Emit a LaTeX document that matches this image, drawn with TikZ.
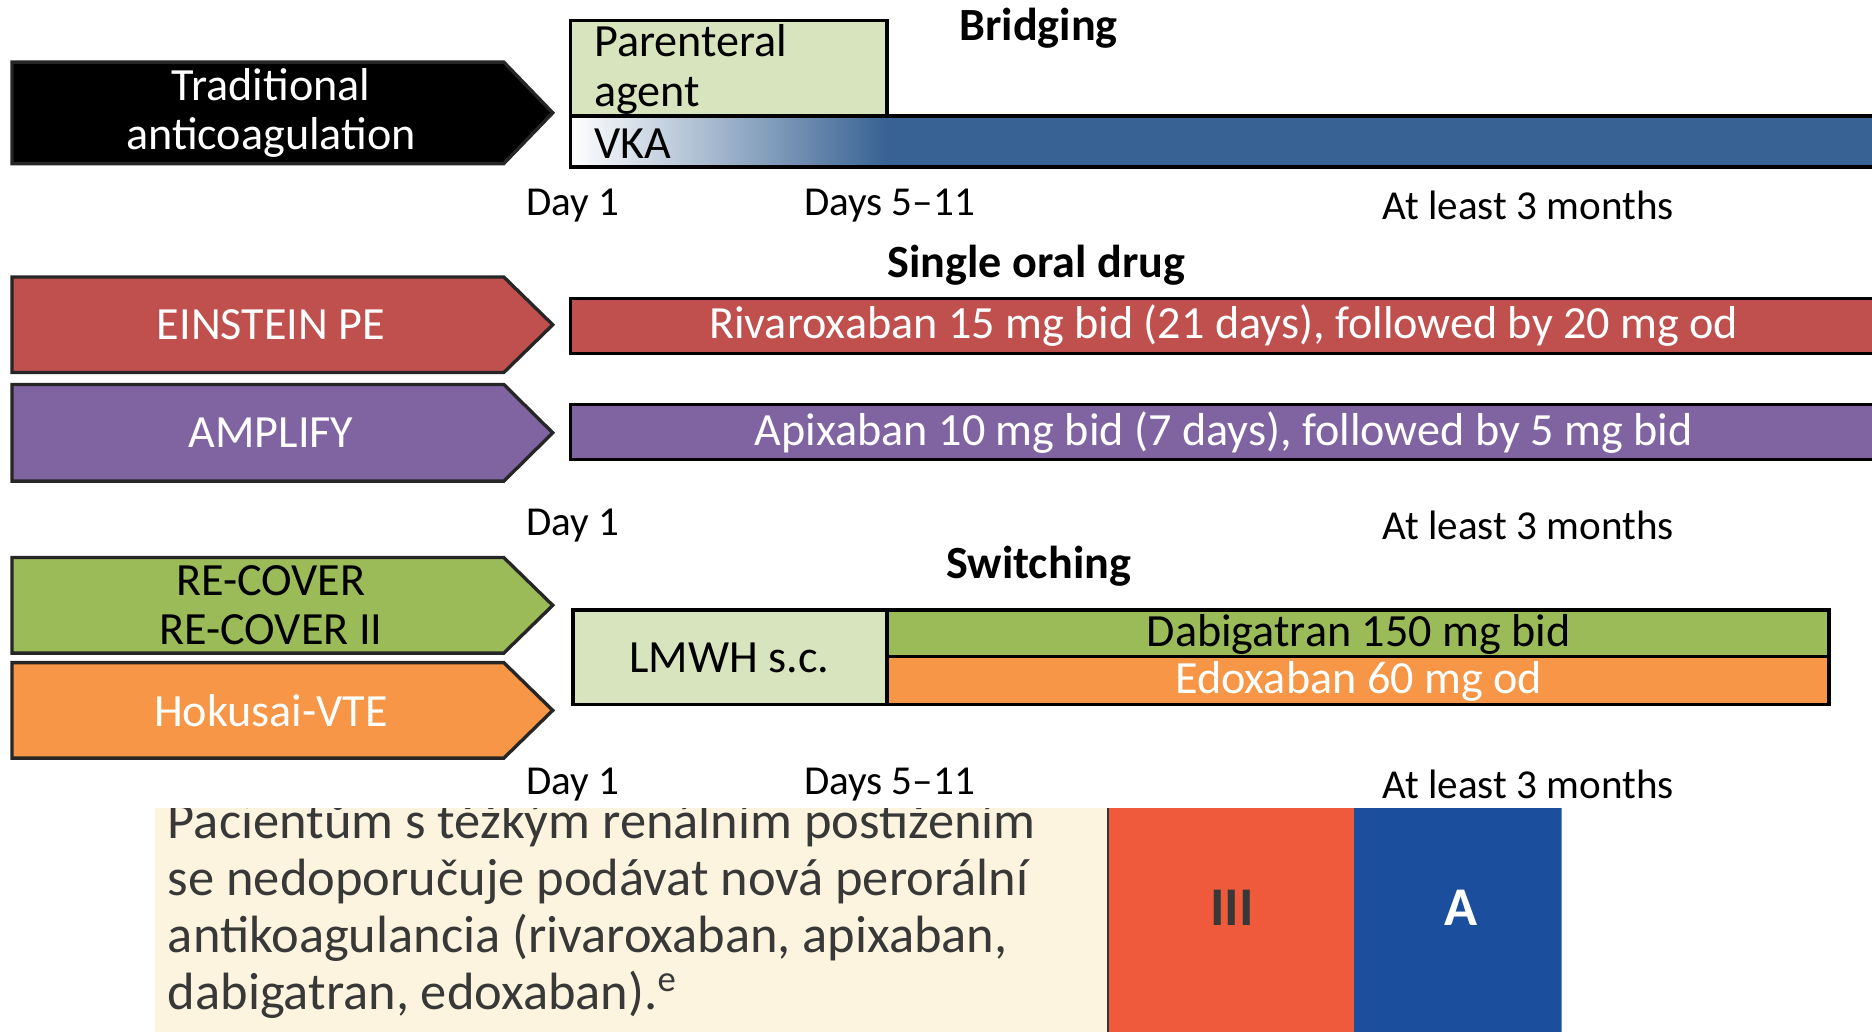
\documentclass[tikz,border=0pt]{standalone}
\usepackage{fontspec}
\setmainfont{Carlito}
\usetikzlibrary{positioning}

\definecolor{trialred}{HTML}{C0504D}
\definecolor{trialpurple}{HTML}{8064A2}
\definecolor{trialgreen}{HTML}{9BBB59}
\definecolor{trialorange}{HTML}{F79646}
\definecolor{paleagent}{HTML}{D7E4BD}
\definecolor{vkablue}{HTML}{386293}
\definecolor{tablecream}{HTML}{FCF4DE}
\definecolor{classred}{HTML}{EF5A3D}
\definecolor{levelblue}{HTML}{1B4E9C}
\definecolor{tabletext}{HTML}{383838}

\tikzset{
  trialarrow/.style={draw=black!85, line width=0.8pt},
  drugbar/.style={draw=black, line width=0.8pt},
  phase/.style={font=\fontsize{11}{12}\selectfont\bfseries},
  timept/.style={inner sep=0pt, font=\fontsize{9.8}{11}\selectfont},
}

\begin{document}
\begin{tikzpicture}[x=0.1mm, y=-0.1mm, font=\fontsize{11}{11.8}\selectfont]
    \useasboundingbox (0,0) rectangle (1568,864);

    % trial arrows on the left
    \foreach \nm/\top/\bot/\fcol/\tcol/\txt in {
        trad/52/137/black/white/{Traditional\\anticoagulation},
        einstein/232/312/trialred/white/{EINSTEIN PE},
        amplify/322/403/trialpurple/white/{AMPLIFY},
        recover/467/547/trialgreen/black/{RE-COVER\\RE-COVER II},
        hokusai/555/635/trialorange/white/{Hokusai-VTE}} {
        \draw[trialarrow, fill=\fcol] (10,\top) -- (422,\top) -- (463,{(\top+\bot)/2})
            -- (422,\bot) -- (10,\bot) -- cycle;
        \node[align=center, text=\tcol, inner sep=0pt] (\nm) at (227,{(\top+\bot)/2}) {\txt};
    }

    % bridging
    \node[phase] (bridging) at (870,24) {Bridging};
    \draw[drugbar, fill=paleagent] (478,17) rectangle (743,97);
    \node[anchor=west, align=left, inner sep=0pt] (parenteral) at (497,58) {Parenteral\\agent};
    \shade[left color=white, right color=vkablue] (478,97) rectangle (743,140);
    \fill[vkablue] (742,97) rectangle (1580,140);
    \draw[drugbar] (1580,97) -- (478,97) -- (478,140) -- (1580,140);
    \node[anchor=west, inner sep=0pt] (vka) at (497,120) {VKA};
    \node[timept] (day1a) at (480,172) {Day 1};
    \node[timept] (days5a) at (745,172) {Days 5--11};
    \node[timept] (monthsa) at (1280,172) {At least 3 months};

    % single oral drug
    \node[phase] (single) at (868,222) {Single oral drug};
    \draw[drugbar, fill=trialred] (1580,250) -- (478,250) -- (478,296) -- (1580,296);
    \node[text=white] (riva) at (1025,273) {Rivaroxaban 15 mg bid (21 days), followed by 20 mg od};
    \draw[drugbar, fill=trialpurple] (1580,339) -- (478,339) -- (478,385) -- (1580,385);
    \node[text=white] (apix) at (1025,362) {Apixaban 10 mg bid (7 days), followed by 5 mg bid};
    \node[timept] (day1b) at (480,440) {Day 1};
    \node[timept] (monthsb) at (1280,440) {At least 3 months};

    % switching
    \node[phase] (switching) at (870,474) {Switching};
    \draw[drugbar, fill=paleagent] (480,511) rectangle (743,590);
    \node (lmwh) at (611,551) {LMWH s.c.};
    \draw[drugbar, fill=trialgreen] (743,511) rectangle (1532,550);
    \node (dabi) at (1138,531) {Dabigatran 150 mg bid};
    \draw[drugbar, fill=trialorange] (743,550) rectangle (1532,590);
    \node[text=white] (edox) at (1138,571) {Edoxaban 60 mg od};
    \node[timept] (day1c) at (480,657) {Day 1};
    \node[timept] (days5c) at (745,657) {Days 5--11};
    \node[timept] (monthsc) at (1280,657) {At least 3 months};

    % recommendation table row
    \begin{scope}
        \clip (130,677) rectangle (1308,864);
        \fill[tablecream] (130,677) rectangle (928,864);
        \node[anchor=west, align=left, inner sep=0pt, text=tabletext,
              font=\fontsize{12.5}{13.6}\selectfont] (recom) at (140,762)
            {Pacientům s těžkým renálním postižením\\
             se nedoporučuje podávat nová perorální\\
             antikoagulancia (rivaroxaban, apixaban,\\
             dabigatran, edoxaban).\textsuperscript{e}};
        \fill[classred] (928,677) rectangle (1134,864);
        \fill[levelblue] (1134,677) rectangle (1308,864);
        \draw[black!80, line width=0.5pt] (928,677) -- (928,864);
    \end{scope}
    \node[font=\fontsize{13}{14}\selectfont\bfseries, text=tabletext] (classiii) at (1032,760) {III};
    \node[font=\fontsize{13}{14}\selectfont\bfseries, text=white] (levela) at (1224,760) {A};
\end{tikzpicture}
\end{document}
